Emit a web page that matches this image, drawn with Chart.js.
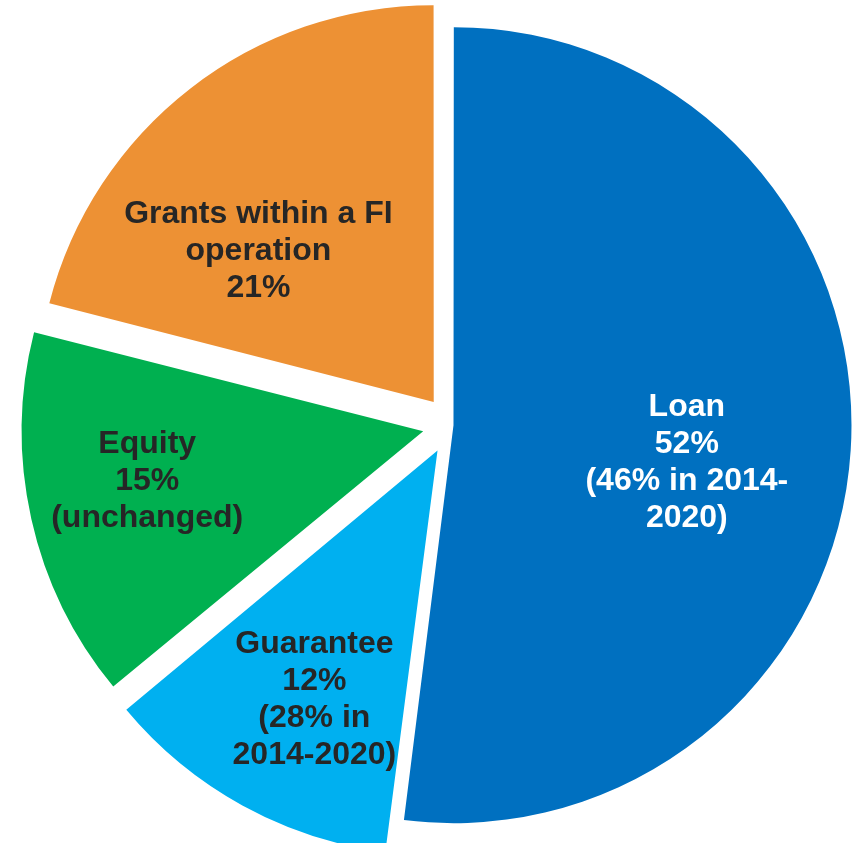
<!DOCTYPE html>
<html>
<head>
<meta charset="utf-8">
<title>Financial instrument mix</title>
<script src="https://cdn.jsdelivr.net/npm/chart.js@4"></script>
<style>
  html, body { margin: 0; padding: 0; background: #ffffff; }
  #wrap { width: 858px; height: 843px; position: relative; }
</style>
</head>
<body>
<div id="wrap"><canvas id="mixChart"></canvas></div>
<script>
// Shares of each product type (per cent), clockwise from 12 o'clock
const categories = ["Loan", "Guarantee", "Equity", "Grants within a FI operation"];
const shares = [52, 12, 15, 21];
const previous = ["(46% in 2014-2020)", "(28% in 2014-2020)", "(unchanged)", ""];

// How each label is broken over lines
const nameLines = [["Loan"], ["Guarantee"], ["Equity"], ["Grants within a FI", "operation"]];
const noteLines = [["(46% in 2014-", "2020)"], ["(28% in", "2014-2020)"], ["(unchanged)"], []];

const sliceColors = ["#0070C0", "#00B0F0", "#00B050", "#ED9134"];
const labelColors = ["#ffffff", "#262626", "#262626", "#262626"];

// label distance from the slice tip (px) and turn off the bisector (deg)
const labelPlacement = [
  { dist: 236, turn: 5 },
  { dist: 276, turn: -2.3 },
  { dist: 280, turn: 2.9 },
  { dist: 233, turn: -11 },
];

function labelText(i) {
  if (i === 3) return [...nameLines[i], shares[i] + "%"];
  return [...nameLines[i], shares[i] + "%", ...noteLines[i]];
}

const sliceLabels = {
  id: "sliceLabels",
  afterDatasetsDraw(chart) {
    const ctx = chart.ctx;
    const arcs = chart.getDatasetMeta(0).data;
    const lineHeight = 37;
    ctx.save();
    ctx.font = 'bold 32px "Liberation Sans", Arial, sans-serif';
    ctx.textAlign = "center";
    ctx.textBaseline = "alphabetic";
    arcs.forEach((arc, i) => {
      const { x, y, startAngle, endAngle } = arc.getProps(["x", "y", "startAngle", "endAngle"], true);
      const mid = (startAngle + endAngle) / 2;
      const shift = (arc.options.offset || 0) / 4;
      const tipX = x + Math.cos(mid) * shift;
      const tipY = y + Math.sin(mid) * shift;
      const p = labelPlacement[i];
      const a = mid + (p.turn * Math.PI) / 180;
      const lx = tipX + Math.cos(a) * p.dist;
      const ly = tipY + Math.sin(a) * p.dist;
      const lines = labelText(i);
      ctx.fillStyle = labelColors[i];
      lines.forEach((line, k) => {
        const cy = ly + (k - (lines.length - 1) / 2) * lineHeight;
        ctx.fillText(line, lx, cy + 11.5);
      });
    });
    ctx.restore();
  },
};

new Chart(document.getElementById("mixChart"), {
  type: "pie",
  data: {
    labels: categories,
    datasets: [
      {
        data: shares,
        backgroundColor: sliceColors,
        borderWidth: 0,
        offset: [8, 116, 116, 116],
        hoverOffset: 0,
        radius: 396,
      },
    ],
  },
  options: {
    responsive: true,
    maintainAspectRatio: false,
    animation: false,
    layout: { padding: { left: 45, top: 7, right: 0, bottom: 0 } },
    plugins: {
      legend: { display: false },
      tooltip: { enabled: false },
    },
  },
  plugins: [sliceLabels],
});
</script>
</body>
</html>
